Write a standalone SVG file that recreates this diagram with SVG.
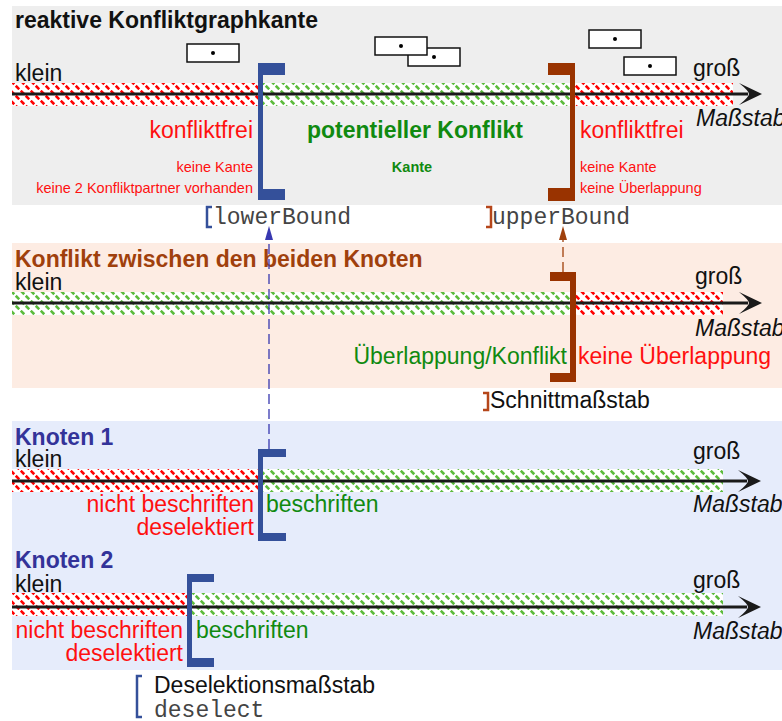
<svg xmlns="http://www.w3.org/2000/svg" width="782" height="721" viewBox="0 0 782 721">
  <style>
    text { font-family: "Liberation Sans", Arial, sans-serif; font-size: 23px; fill: #111; }
    .title { font-weight: bold; }
    .mono { font-family: "Liberation Mono", "Courier New", monospace; font-size: 23px; fill: #444; }
    .ital { font-style: italic; }
    .red { fill: #ff1010; }
    .green { fill: #108a10; }
    .small { font-size: 14.5px; }
    .bold { font-weight: bold; }
    .end { text-anchor: end; }
    .mid { text-anchor: middle; }
    .axis { stroke: #1a1a1a; stroke-width: 3; fill: none; }
    .head { fill: #1a1a1a; }
    .box { fill: #fff; stroke: #111; stroke-width: 1.5; }
    .blueB { fill: #34509a; }
    .brownB { fill: #993300; }
    .glyphBlue { fill: none; stroke: #34509a; stroke-width: 2.5; }
    .glyphBrown { fill: none; stroke: #b5461a; stroke-width: 2.5; }
  </style>
  <defs>
    <pattern id="hatchRed" patternUnits="userSpaceOnUse" width="10" height="10">
      <rect width="10" height="10" fill="#fff"/>
      <path d="M0,0 L10,10" stroke="#ff0000" stroke-width="2.6" stroke-dasharray="5 2.07" stroke-dashoffset="-1.035"/>
    </pattern>
    <pattern id="hatchGreen" patternUnits="userSpaceOnUse" width="10" height="10">
      <rect width="10" height="10" fill="#fff"/>
      <path d="M0,0 L10,10" stroke="#5cbb3c" stroke-width="2.6" stroke-dasharray="5 2.07" stroke-dashoffset="-1.035"/>
    </pattern>
    <path id="arrowHead" d="M0,0 L-23,-11 Q-13,-3 -13,0 Q-13,3 -23,11 Z"/>
  </defs>

  <!-- panel backgrounds -->
  <rect x="12" y="6" width="770" height="199" fill="#eeeeee"/>
  <rect x="12" y="243" width="770" height="145" fill="#fdece3"/>
  <rect x="12" y="421" width="770" height="249" fill="#e6ecfb"/>

  <!-- reactive conflict graph edge -->
  <g id="edge-panel">
    <text class="title" x="15" y="28">reaktive Konfliktgraphkante</text>
    <g id="label-boxes">
      <rect class="box" x="187" y="44" width="52" height="18"/><circle cx="213" cy="53" r="2"/>
      <rect class="box" x="408" y="48" width="52" height="18"/><circle cx="434" cy="57" r="2"/>
      <rect class="box" x="375" y="37" width="52" height="18"/><circle cx="401" cy="46" r="2"/>
      <rect class="box" x="589" y="30" width="52" height="18"/><circle cx="615" cy="39" r="2"/>
      <rect class="box" x="624" y="57" width="52" height="18"/><circle cx="650" cy="66" r="2"/>
    </g>
    <rect x="12" y="83" width="246" height="23" fill="url(#hatchRed)"/>
    <rect x="263" y="83" width="307" height="23" fill="url(#hatchGreen)"/>
    <rect x="575" y="83" width="158" height="23" fill="url(#hatchRed)"/>
    <line class="axis" x1="12" y1="94" x2="748" y2="94"/>
    <use href="#arrowHead" class="head" transform="translate(762,94)"/>
    <path class="blueB" d="M258,63 H285 V75 H263 V189 H285 V200 H258 Z"/>
    <path class="brownB" d="M575,63 V201 H548 V188 H570 V75 H548 V63 Z"/>
    <text x="15" y="81">klein</text>
    <text x="693" y="76">groß</text>
    <text class="ital" x="696" y="126">Maßstab</text>
    <text class="red end" x="253" y="138">konfliktfrei</text>
    <text class="red small end" x="253" y="172">keine Kante</text>
    <text class="red small end" x="253" y="193">keine 2 Konfliktpartner vorhanden</text>
    <text class="green bold mid" x="415" y="138">potentieller Konflikt</text>
    <text class="green small bold mid" x="412" y="172">Kante</text>
    <text class="red" x="580" y="138">konfliktfrei</text>
    <text class="red small" x="580" y="172">keine Kante</text>
    <text class="red small" x="580" y="193">keine Überlappung</text>
  </g>

  <g id="lowerBound">
    <path class="glyphBlue" d="M212,207 H207 V227 H212"/>
    <text class="mono" x="213" y="224">lowerBound</text>
  </g>
  <g id="upperBound">
    <path class="glyphBrown" d="M486,207 H491 V227 H486"/>
    <text class="mono" x="492" y="224">upperBound</text>
  </g>

  <!-- conflict between both nodes -->
  <g id="conflict-panel">
    <text class="title" x="15" y="267" style="fill:#a0400c">Konflikt zwischen den beiden Knoten</text>
    <rect x="12" y="292" width="559" height="23" fill="url(#hatchGreen)"/>
    <rect x="575" y="292" width="148" height="23" fill="url(#hatchRed)"/>
    <line class="axis" x1="12" y1="303" x2="748" y2="303"/>
    <use href="#arrowHead" class="head" transform="translate(762,303)"/>
    <path class="brownB" d="M576,272 V382 H550 V373 H570 V281 H550 V272 Z"/>
    <text x="15" y="290">klein</text>
    <text x="695" y="284">groß</text>
    <text class="ital" x="695" y="336">Maßstab</text>
    <text class="green end" x="567" y="364">Überlappung/Konflikt</text>
    <text class="red" x="578" y="364">keine Überlappung</text>
  </g>
  <g id="schnittmassstab">
    <path class="glyphBrown" d="M483,393 H488 V410 H483"/>
    <text x="490" y="408">Schnittmaßstab</text>
  </g>

  <!-- node 1 -->
  <g id="knoten1">
    <text class="title" x="15" y="445" style="fill:#333399">Knoten 1</text>
    <rect x="12" y="469" width="246" height="23" fill="url(#hatchRed)"/>
    <rect x="263" y="469" width="460" height="23" fill="url(#hatchGreen)"/>
    <line class="axis" x1="12" y1="481" x2="747" y2="481"/>
    <use href="#arrowHead" class="head" transform="translate(761,481)"/>
    <path class="blueB" d="M258,449 H286 V457 H263 V533 H286 V541 H258 Z"/>
    <text x="15" y="467">klein</text>
    <text x="693" y="459">groß</text>
    <text class="ital" x="693" y="512">Maßstab</text>
    <text class="red end" x="254" y="512">nicht beschriften</text>
    <text class="red end" x="254" y="535">deselektiert</text>
    <text class="green" x="266" y="512">beschriften</text>
  </g>

  <!-- node 2 -->
  <g id="knoten2">
    <text class="title" x="15" y="568" style="fill:#333399">Knoten 2</text>
    <rect x="12" y="593" width="176" height="23" fill="url(#hatchRed)"/>
    <rect x="192" y="593" width="531" height="23" fill="url(#hatchGreen)"/>
    <line class="axis" x1="12" y1="607" x2="747" y2="607"/>
    <use href="#arrowHead" class="head" transform="translate(761,607)"/>
    <path class="blueB" d="M187,574 H214 V582 H192 V658 H214 V667 H187 Z"/>
    <text x="15" y="592">klein</text>
    <text x="693" y="588">groß</text>
    <text class="ital" x="693" y="639">Maßstab</text>
    <text class="red end" x="183" y="638">nicht beschriften</text>
    <text class="red end" x="183" y="661">deselektiert</text>
    <text class="green" x="196" y="638">beschriften</text>
  </g>
  <g id="deselect">
    <path class="glyphBlue" d="M142,676 H137 V717 H142"/>
    <text x="154" y="693">Deselektionsmaßstab</text>
    <text class="mono" x="154" y="717">deselect</text>
  </g>

  <!-- connectors -->
  <g id="connectors">
    <line x1="269" y1="449" x2="269" y2="238" stroke="#3838b0" stroke-width="1.3" stroke-dasharray="10 5"/>
    <polygon points="269,226 265,240 273,240" fill="#3838b0"/>
    <line x1="563" y1="272" x2="563" y2="238" stroke="#a0400c" stroke-width="1.3" stroke-dasharray="10 5"/>
    <polygon points="563,226 559,240 567,240" fill="#a0400c"/>
  </g>
</svg>
